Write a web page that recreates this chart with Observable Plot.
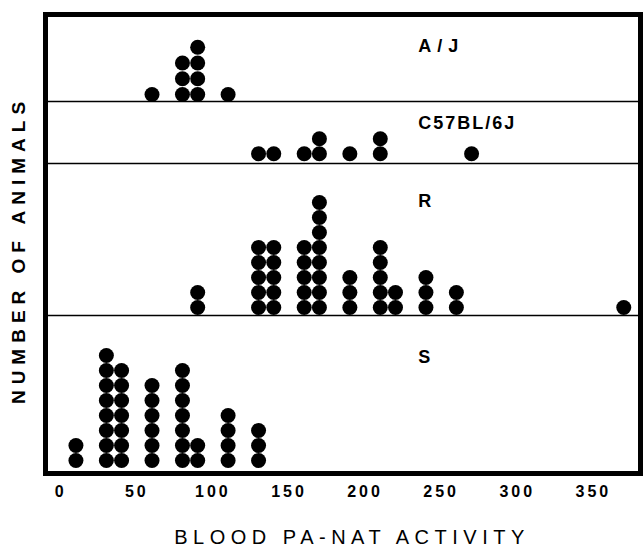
<!DOCTYPE html>
<html><head><meta charset="utf-8">
<script src="https://cdn.jsdelivr.net/npm/d3@7"></script>
<script src="https://cdn.jsdelivr.net/npm/@observablehq/plot@0.6"></script>
<style>body{margin:0;background:#fff} #chart{width:643px;height:547px}</style>
</head><body><div id="chart"></div>
<script>
// ---- data ----
const strains = ["A/J", "C57BL/6J", "R", "S"];
const ajValues = [60, 80, 90, 110];
const ajCounts = [1, 3, 4, 1];
const c57Values = [130, 140, 160, 170, 190, 210, 270];
const c57Counts = [1, 1, 1, 2, 1, 2, 1];
const rValues = [90, 130, 140, 160, 170, 190, 210, 220, 240, 260, 370];
const rCounts = [2, 5, 5, 5, 8, 3, 5, 2, 3, 2, 1];
const sValues = [10, 30, 40, 60, 80, 90, 110, 130];
const sCounts = [2, 8, 7, 6, 7, 2, 4, 3];
const xTicks = [0, 50, 100, 150, 200, 250, 300, 350];
const xTitle = "BLOOD PA-NAT ACTIVITY";
const yTitle = "NUMBER OF ANIMALS";

// ---- layout (vertical positions in dot-row units) ----
const layout = {
  "A/J":      {base: 24.4,  step: 1.05, top: 29.73, labelY: 27.6},
  "C57BL/6J": {base: 20.45, step: 1,    top: 23.93, labelY: 22.5},
  "R":        {base: 10.2,  step: 1,    top: 19.8,  labelY: 17.3},
  "S":        {base: 0,     step: 1,    top: 9.67,  labelY: 6.9}
};
const series = {
  "A/J": [ajValues, ajCounts],
  "C57BL/6J": [c57Values, c57Counts],
  "R": [rValues, rCounts],
  "S": [sValues, sCounts]
};
const dots = [];
for (const s of strains) {
  const [vals, counts] = series[s];
  vals.forEach((v, i) => {
    for (let k = 0; k < counts[i]; k++) dots.push({strain: s, x: v, y: layout[s].base + k * layout[s].step});
  });
}
const separators = ["C57BL/6J", "R", "S"].map(s => layout[s].top);
const labelX = 235;

const chart = Plot.plot({
  width: 643,
  height: 547,
  marginLeft: 45,
  marginRight: 3,
  marginTop: 14,
  marginBottom: 74,
  style: {fontFamily: "'Liberation Sans', Arial, sans-serif", background: "white", color: "black"},
  x: {domain: [-10, 381], axis: null},
  y: {domain: [-0.87, 29.73], axis: null},
  marks: [
    Plot.ruleY(separators, {stroke: "black", strokeWidth: 1.5}),
    Plot.frame({stroke: "black", strokeWidth: 5}),
    Plot.dot(dots, {x: "x", y: "y", r: 7.5, fill: "black", stroke: "none"}),
    Plot.text(strains, {x: () => labelX, y: s => layout[s].labelY, text: d => d, textAnchor: "start",
      fontSize: 18, fontWeight: "bold", fill: "black"}),
    Plot.axisX(xTicks, {tickSize: 0, tickPadding: 12, fontSize: 16, fontWeight: "bold", label: null}),
    Plot.text([xTitle], {frameAnchor: "bottom", textAnchor: "middle", lineAnchor: "middle", dy: 64, dx: 9,
      fontSize: 20, fill: "black"}),
    Plot.text([yTitle], {frameAnchor: "left", textAnchor: "middle", lineAnchor: "middle", rotate: -90,
      dx: -27, dy: 6, fontSize: 19, fontWeight: "bold", fill: "black"})
  ]
});
document.getElementById("chart").appendChild(chart);
const spacing = {"A/J": 6, "C57BL/6J": 2, "R": 2, "S": 2};
spacing[xTitle] = 5.5;
spacing[yTitle] = 6;
d3.select(chart).selectAll("text").each(function() {
  const t = d3.select(this).text();
  if (t in spacing) d3.select(this).attr("letter-spacing", spacing[t]);
  else if (xTicks.map(String).includes(t)) d3.select(this).attr("letter-spacing", 3);
});
</script>
</body></html>
